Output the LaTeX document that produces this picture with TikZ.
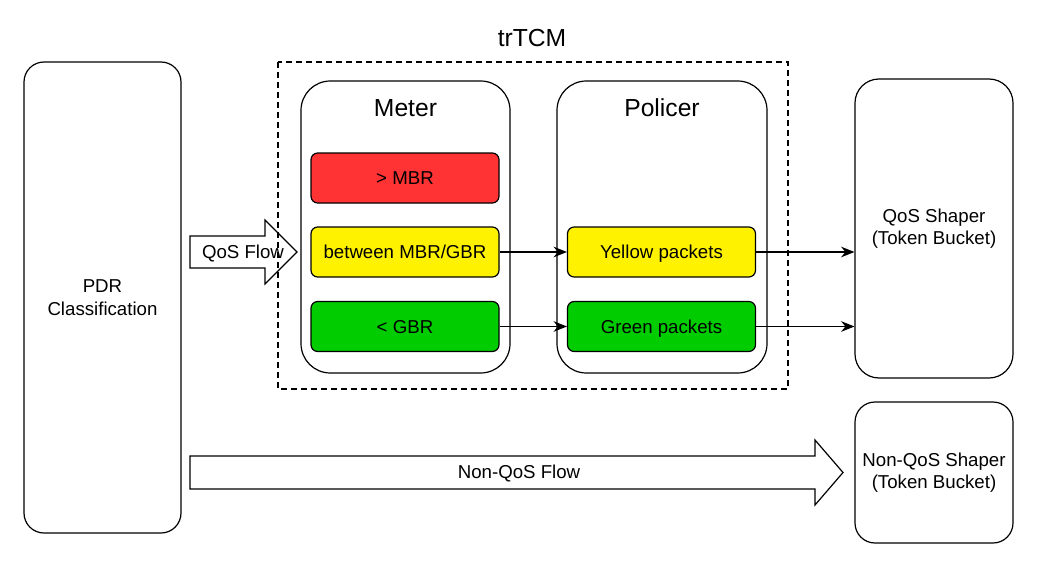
\documentclass[tikz,border=0pt]{standalone}
\usepackage{fontspec}
\setmainfont{Liberation Sans}
\usetikzlibrary{arrows.meta}

\definecolor{mred}{RGB}{255,51,51}
\definecolor{mgreen}{RGB}{0,204,0}

\begin{document}
\begin{tikzpicture}[x=0.75pt,y=-0.75pt,line width=0.9pt,>={Stealth[length=10pt,width=8pt]}]
\tikzstyle{block} = [rectangle, draw, rounded corners=15pt, align=center, font=\fontsize{14}{17}\selectfont]
\tikzstyle{group} = [rectangle, draw, rounded corners=22pt]
\tikzstyle{band} = [rectangle, draw, rounded corners=5pt, minimum width=141pt, minimum height=37.5pt, text height=10pt, text depth=0pt, font=\fontsize{14}{17}\selectfont]
\tikzstyle{title} = [font=\fontsize{18.5}{22}\selectfont]
\tikzstyle{txt} = [font=\fontsize{14}{17}\selectfont, text height=10pt, text depth=0pt, align=center]

\useasboundingbox (0,0) rectangle (1042,567);

\node at (102.5,297.5) [block, minimum width=117.75pt, minimum height=353.25pt] (PDR) {PDR\\Classification};

% QoS flow
\draw[fill=white] (190,236) -- (265,236) -- (265,220) -- (297,252) -- (265,284) -- (265,268) -- (190,268) -- cycle;
\node at (243,252) [txt] (QF) {QoS Flow};

\draw[dash pattern=on 4.5pt off 3pt] (278,62) rectangle (788,389);
\node at (532,38) [title] (TR) {trTCM};

\node at (405.5,227) [group, minimum width=156.75pt, minimum height=219pt] (M) {};
\node at (405.5,108) [title] (MT) {Meter};
\node at (662,227) [group, minimum width=157.5pt, minimum height=219pt] (P) {};
\node at (662,108) [title] (PT) {Policer};

\node at (405,178) [band, fill=mred] (R) {> MBR};
\node at (405,252) [band, fill=yellow] (Y) {between MBR/GBR};
\node at (405,326.5) [band, fill=mgreen] (G) {< GBR};

\node at (661.5,252) [band, fill=yellow] (YP) {Yellow packets};
\node at (661.5,326.5) [band, fill=mgreen] (GP) {Green packets};

\node at (934,228.5) [block, rounded corners=18pt, minimum width=118.5pt, minimum height=224.25pt] (QS) {QoS Shaper\\(Token Bucket)};
\node at (934,472.5) [block, minimum width=118.5pt, minimum height=105.75pt] (NS) {Non-QoS Shaper\\(Token Bucket)};

\draw[->] (Y) -- (YP);
\draw[->] (G) -- (GP);
\draw[->] (YP.east) -- (YP.east -| QS.west);
\draw[->] (GP.east) -- (GP.east -| QS.west);

% non-QoS flow
\draw[fill=white] (190,456) -- (815,456) -- (815,440) -- (843,472.5) -- (815,505) -- (815,489) -- (190,489) -- cycle;
\node at (519,472) [txt] (NF) {Non-QoS Flow};

\end{tikzpicture}
\end{document}
